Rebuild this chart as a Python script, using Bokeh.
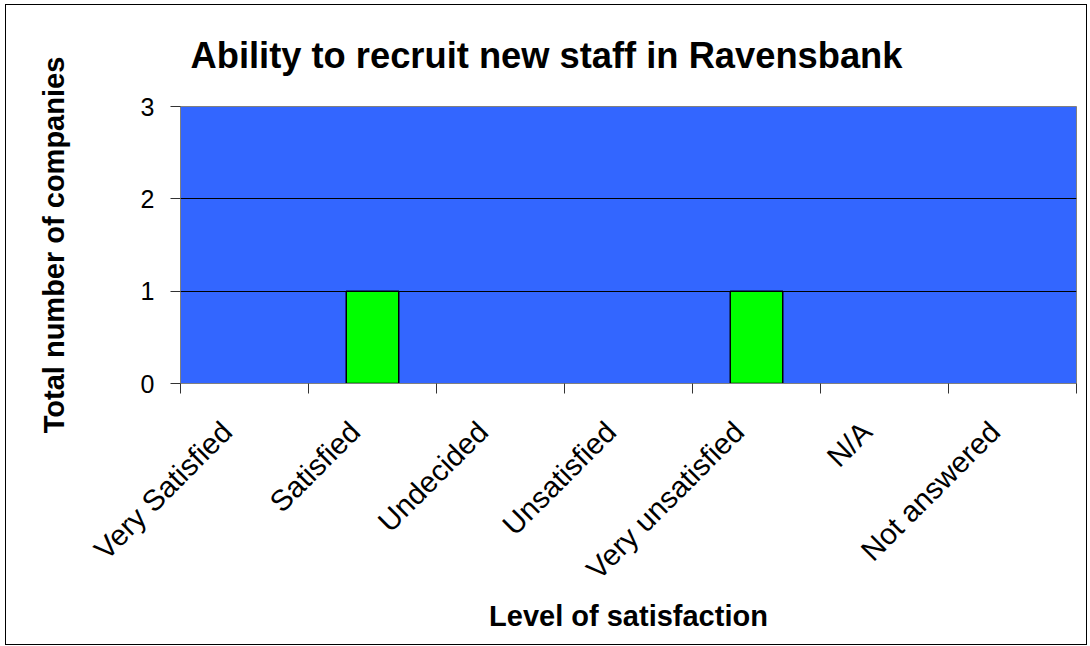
from bokeh.plotting import figure
from bokeh.models import Range1d, FixedTicker, ColumnDataSource, CDSView, BooleanFilter
from bokeh.embed import file_html
from bokeh.resources import INLINE

# ---- data ----
categories = ["Very Satisfied", "Satisfied", "Undecided", "Unsatisfied",
              "Very unsatisfied", "N/A", "Not answered"]
counts = [0, 1, 0, 0, 1, 0, 0]
y_ticks = [0, 1, 2, 3]

title_text = "Ability to recruit new staff in Ravensbank"
x_title = "Level of satisfaction"
y_title = "Total number of companies"

FONT = "Liberation Sans"

centers = [i + 0.5 for i in range(len(categories))]
bounds = list(range(len(categories) + 1))
label_shift = 0.14  # Excel-style anchoring of the slanted labels
label_pos = [c - label_shift for c in centers]

source = ColumnDataSource(dict(x=centers, top=counts, cat=categories))
view = CDSView(filter=BooleanFilter([c > 0 for c in counts]))

p = figure(frame_width=896, frame_height=277,
           x_range=Range1d(0, len(categories)), y_range=Range1d(y_ticks[0], y_ticks[-1]),
           output_backend="svg", toolbar_location=None,
           min_border_left=174, min_border_right=10, min_border_top=101, min_border_bottom=261,
           title=title_text)

p.styles = {"border": "1px solid #000000", "margin": "4px 0px 0px 5px"}

p.background_fill_color = "#3366FF"
p.border_fill_color = "#FFFFFF"
p.outline_line_color = "#808080"
p.outline_line_width = 1

p.title.text_font = FONT
p.title.text_font_style = "bold"
p.title.text_font_size = "36.3px"
p.title.align = "left"
p.title.vertical_align = "top"
p.title.offset = 10
p.title.standoff = 57
p.title.text_color = "#000000"

p.vbar(x="x", top="top", bottom=0, width=0.41, source=source, view=view,
       fill_color="#00FF00", line_color="#000000", line_width=1.5)

# grid
p.xgrid.visible = False
p.ygrid.ticker = FixedTicker(ticks=y_ticks)
p.ygrid.grid_line_color = "#000000"
p.ygrid.grid_line_width = 1

# x axis
xa = p.xaxis[0]
xa.ticker = FixedTicker(ticks=label_pos, minor_ticks=bounds)
xa.major_label_overrides = {c: name for c, name in zip(label_pos, categories)}
xa.major_label_orientation = 0.785398
xa.major_tick_line_color = None
xa.major_tick_out = 10
xa.major_tick_in = 0
xa.minor_tick_line_color = "#333333"
xa.minor_tick_out = 10
xa.minor_tick_in = 0
xa.axis_line_color = "#808080"
xa.major_label_text_font = FONT
xa.major_label_text_font_size = "29.5px"
xa.major_label_text_color = "#000000"
xa.major_label_standoff = 33
xa.axis_label = x_title
xa.axis_label_text_font = FONT
xa.axis_label_text_font_style = "bold"
xa.axis_label_text_font_size = "29px"
xa.axis_label_text_color = "#000000"
xa.axis_label_standoff = 0

# y axis
ya = p.yaxis[0]
ya.ticker = FixedTicker(ticks=y_ticks)
ya.major_tick_line_color = "#333333"
ya.major_tick_out = 10
ya.major_tick_in = 0
ya.minor_tick_line_color = None
ya.axis_line_color = "#808080"
ya.major_label_text_font = FONT
ya.major_label_text_font_size = "25px"
ya.major_label_text_color = "#000000"
ya.major_label_standoff = 16
ya.axis_label = y_title
ya.axis_label_text_font = FONT
ya.axis_label_text_font_style = "bold"
ya.axis_label_text_font_size = "29px"
ya.axis_label_text_color = "#000000"
ya.axis_label_standoff = 68

open("out.html", "w").write(file_html(p, INLINE))
